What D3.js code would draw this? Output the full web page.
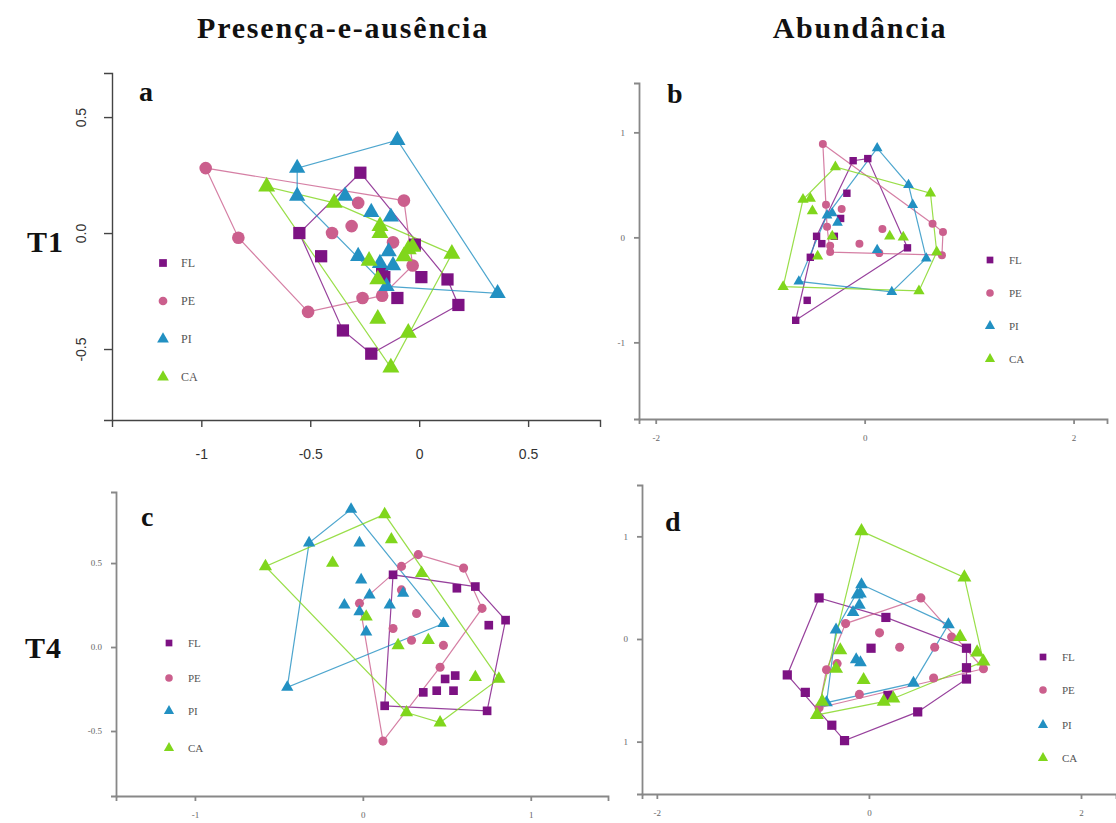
<!DOCTYPE html>
<html>
<head>
<meta charset="utf-8">
<script src="https://cdnjs.cloudflare.com/ajax/libs/d3/7.8.5/d3.min.js"></script>
<style>
  body { margin: 0; background: #fff; }
  .head { font-family: "Liberation Serif", "Times New Roman", serif; font-weight: bold; fill: #111; }
  .axis path, .axis line { stroke: #888; stroke-width: 1.8px; }
  .axis text { font-family: "Liberation Serif", serif; fill: #666; }
  .axis-a path, .axis-a line { stroke: #444; stroke-width: 1.4px; }
  .axis-a text { font-family: "Liberation Sans", Arial, sans-serif; fill: #333; }
  .hull { fill: none; stroke-width: 1.2px; stroke-opacity: 0.8; }
  .leg { font-family: "Liberation Serif", serif; fill: #555; }
</style>
</head>
<body>
<script>
var groups = ["FL", "PE", "PI", "CA"];
var colors = {FL: "#7d1283", PE: "#cb5f8d", PI: "#2290c2", CA: "#80d61c"};
var shapes = {FL: d3.symbolSquare, PE: d3.symbolCircle, PI: d3.symbolTriangle, CA: d3.symbolTriangle};

// panel a : T1, presence-absence
var aFL = [[-0.27,0.26],[-0.55,0.00],[-0.45,-0.10],[-0.35,-0.42],[-0.22,-0.52],[-0.02,-0.05],
           [0.01,-0.19],[0.13,-0.20],[-0.10,-0.28],[0.18,-0.31],[-0.17,-0.17],[-0.16,-0.19]];
var aPE = [[-0.98,0.28],[-0.83,-0.02],[-0.28,0.13],[-0.31,0.03],[-0.40,0.00],[-0.07,0.14],
           [-0.12,-0.04],[-0.03,-0.14],[-0.26,-0.28],[-0.17,-0.27],[-0.51,-0.34]];
var aPI = [[-0.56,0.28],[-0.56,0.16],[-0.34,0.16],[-0.10,0.40],[-0.22,0.09],[-0.13,0.07],
           [-0.28,-0.10],[-0.14,-0.08],[-0.18,-0.13],[-0.12,-0.14],[-0.15,-0.23],[0.36,-0.26]];
var aCA = [[-0.70,0.20],[-0.39,0.13],[-0.18,0.03],[-0.18,0.00],[-0.05,-0.07],[0.15,-0.09],
           [-0.23,-0.12],[-0.07,-0.10],[-0.03,-0.06],[-0.19,-0.20],[-0.19,-0.37],[-0.05,-0.43],[-0.13,-0.58]];
var aTicksX = [-1, -0.5, 0, 0.5], aLabelsX = ["-1", "-0.5", "0", "0.5"];
var aTicksY = [-0.5, 0, 0.5], aLabelsY = ["-0.5", "0.0", "0.5"];

// panel b : T1, abundance
var bFL = [[-0.11,0.73],[0.03,0.75],[-0.17,0.42],[-0.23,0.18],[-0.46,0.01],[-0.29,0.01],
           [-0.41,-0.06],[-0.52,-0.19],[0.41,-0.10],[-0.55,-0.60],[-0.66,-0.79]];
var bPE = [[-0.40,0.89],[-0.37,0.31],[-0.22,0.27],[-0.36,0.10],[-0.33,-0.08],[-0.33,-0.14],
           [-0.05,-0.06],[0.17,0.08],[0.65,0.13],[0.75,0.05],[0.14,-0.15],[0.74,-0.17]];
var bPI = [[0.12,0.85],[0.42,0.50],[0.46,0.31],[-0.36,0.21],[-0.31,0.23],[-0.26,0.14],
           [0.12,-0.12],[0.59,-0.20],[0.26,-0.52],[-0.63,-0.42]];
var bCA = [[-0.28,0.67],[-0.59,0.36],[-0.52,0.37],[-0.50,0.25],[-0.31,0.01],[-0.45,-0.18],
           [0.24,0.01],[0.37,0.00],[0.63,0.42],[0.69,-0.14],[0.52,-0.51],[-0.78,-0.47]];
var bTicksX = [-2, 0, 2], bLabelsX = ["-2", "0", "2"];
var bTicksY = [-1, 0, 1], bLabelsY = ["-1", "0", "1"];

// panel c : T4, presence-absence
var cFL = [[0.18,0.43],[0.56,0.35],[0.67,0.36],[0.85,0.16],[0.75,0.13],[0.49,-0.19],
           [0.55,-0.17],[0.36,-0.27],[0.44,-0.26],[0.54,-0.26],[0.13,-0.35],[0.74,-0.38]];
var cPE = [[0.33,0.55],[0.60,0.47],[0.23,0.48],[0.23,0.34],[-0.02,0.26],[0.71,0.23],
           [0.32,0.20],[0.18,0.11],[0.29,0.04],[0.48,0.01],[0.46,-0.12],[0.12,-0.56]];
var cPI = [[-0.07,0.82],[-0.32,0.62],[-0.02,0.62],[-0.01,0.40],[0.04,0.31],[-0.11,0.25],
           [0.24,0.32],[-0.02,0.21],[0.16,0.25],[0.48,0.14],[0.02,0.09],[-0.45,-0.24]];
var cCA = [[-0.58,0.48],[-0.18,0.50],[0.13,0.79],[0.17,0.64],[0.35,0.44],[0.02,0.18],
           [0.39,0.04],[0.21,0.01],[0.67,-0.18],[0.81,-0.19],[0.26,-0.39],[0.46,-0.45]];
var cTicksX = [-1, 0, 1], cLabelsX = ["-1", "0", "1"];
var cTicksY = [-0.5, 0, 0.5], cLabelsY = ["-0.5", "0.0", "0.5"];

// panel d : T4, abundance
var dFL = [[-0.47,0.40],[0.16,0.21],[0.02,-0.09],[0.92,-0.09],[0.92,-0.28],[0.92,-0.39],
           [-0.77,-0.35],[-0.60,-0.52],[0.18,-0.55],[-0.35,-0.84],[0.46,-0.71],[-0.23,-0.99]];
var dPE = [[-0.22,0.15],[0.10,0.06],[0.49,0.40],[0.29,-0.08],[0.62,-0.08],[0.78,0.02],
           [-0.30,-0.24],[-0.40,-0.30],[1.08,-0.29],[0.61,-0.38],[-0.09,-0.54],[-0.47,-0.67]];
var dPI = [[-0.07,0.53],[-0.11,0.43],[-0.08,0.44],[-0.09,0.33],[-0.15,0.26],[-0.31,0.09],
           [0.75,0.14],[-0.12,-0.20],[-0.08,-0.23],[0.42,-0.43],[-0.40,-0.62]];
var dCA = [[-0.07,1.05],[0.90,0.60],[0.86,0.02],[1.02,-0.13],[1.08,-0.22],[-0.27,-0.11],
           [-0.31,-0.29],[-0.05,-0.40],[0.14,-0.61],[0.23,-0.58],[-0.44,-0.61],[-0.49,-0.74]];
var dTicksX = [-2, 0, 2], dLabelsX = ["-2", "0", "2"];
var dTicksY = [-1, 0, 1], dLabelsY = ["1", "0", "1"];

var svg = d3.select("body").append("svg")
    .attr("width", 1116)
    .attr("height", 823);

// panel layout: plot box in pixels + axis domains
var panels = [
  {letter: "a", data: {FL: aFL, PE: aPE, PI: aPI, CA: aCA},
   box: {l: 112, r: 600, t: 73, b: 420}, xd: [-1.41, 0.83], yd: [-0.806, 0.69],
   tx: aTicksX, lx: aLabelsX, ty: aTicksY, ly: aLabelsY, big: true,
   sz: {FL: 150, PE: 125, PI: 115, CA: 125}, legX: 163, legY: [263, 301, 339, 377], letterPos: [139, 101]},
  {letter: "b", data: {FL: bFL, PE: bPE, PI: bPI, CA: bCA},
   box: {l: 639, r: 1107, t: 83, b: 419}, xd: [-2.16, 2.32], yd: [-1.73, 1.47],
   tx: bTicksX, lx: bLabelsX, ty: bTicksY, ly: bLabelsY,
   sz: {FL: 55, PE: 50, PI: 50, CA: 55}, legX: 990, legY: [260, 293, 326, 359], letterPos: [667, 103]},
  {letter: "c", data: {FL: cFL, PE: cPE, PI: cPI, CA: cCA},
   box: {l: 116, r: 608, t: 492, b: 796}, xd: [-1.47, 1.46], yd: [-0.887, 0.923],
   tx: cTicksX, lx: cLabelsX, ty: cTicksY, ly: cLabelsY,
   sz: {FL: 75, PE: 65, PI: 65, CA: 75}, legX: 169, legY: [643, 678, 711, 748], letterPos: [141, 526]},
  {letter: "d", data: {FL: dFL, PE: dPE, PI: dPI, CA: dCA},
   box: {l: 642, r: 1116, t: 485, b: 794}, xd: [-2.14, 2.33], yd: [-1.51, 1.50],
   tx: dTicksX, lx: dLabelsX, ty: dTicksY, ly: dLabelsY,
   sz: {FL: 85, PE: 65, PI: 70, CA: 85}, legX: 1043, legY: [657, 690, 725, 758], letterPos: [665, 531]}
];

panels.forEach(function(p) {
  var x = d3.scaleLinear().domain(p.xd).range([p.box.l, p.box.r]);
  var y = d3.scaleLinear().domain(p.yd).range([p.box.b, p.box.t]);
  var g = svg.append("g");
  var cls = p.big ? "axis axis-a" : "axis";

  // axes (R style, only bottom and left)
  var xa = d3.axisBottom(x).tickValues(p.tx).tickSizeOuter(0).tickSize(p.big ? 7 : 5)
      .tickPadding(p.big ? 22 : 11).tickFormat(function(d, i) { return p.lx[i]; });
  g.append("g").attr("class", cls).attr("transform", "translate(0," + p.box.b + ")").call(xa)
    .selectAll("text").style("font-size", p.big ? "14px" : "9px");

  var ya = d3.axisLeft(y).tickValues(p.ty).tickSizeOuter(0).tickSize(p.big ? 8 : 5)
      .tickPadding(p.big ? 18 : 9).tickFormat(function(d, i) { return p.ly[i]; });
  var yg = g.append("g").attr("class", cls).attr("transform", "translate(" + p.box.l + ",0)").call(ya);
  yg.selectAll("text").style("font-size", p.big ? "14px" : "9px");
  if (p.big) {
    // rotated labels like R's default las=0
    yg.selectAll(".tick text")
      .attr("text-anchor", "middle")
      .attr("dy", 0)
      .attr("transform", "rotate(-90)")
      .attr("x", 0).attr("y", -26);
  }

  // convex hulls per group
  groups.forEach(function(k) {
    var pts = p.data[k].map(function(d) { return [x(d[0]), y(d[1])]; });
    var hull = d3.polygonHull(pts);
    g.append("path").attr("class", "hull")
      .attr("stroke", colors[k])
      .attr("d", "M" + hull.join("L") + "Z");
  });

  // points
  groups.forEach(function(k) {
    g.selectAll(null).data(p.data[k]).enter().append("path")
      .attr("transform", function(d) { return "translate(" + x(d[0]) + "," + y(d[1]) + ")"; })
      .attr("d", d3.symbol().type(shapes[k]).size(p.sz[k]))
      .attr("fill", colors[k]);
  });

  // legend
  groups.forEach(function(k, i) {
    g.append("path")
      .attr("transform", "translate(" + p.legX + "," + p.legY[i] + ")")
      .attr("d", d3.symbol().type(shapes[k]).size(p.big ? 60 : 45))
      .attr("fill", colors[k]);
    g.append("text").attr("class", "leg")
      .attr("x", p.legX + (p.big ? 18 : 19)).attr("y", p.legY[i] + 4)
      .style("font-size", p.big ? "12px" : "11px")
      .text(k);
  });

  g.append("text").attr("class", "head")
    .attr("x", p.letterPos[0]).attr("y", p.letterPos[1])
    .style("font-size", "28px")
    .text(p.letter);
});

// headings
svg.append("text").attr("class", "head").attr("x", 343).attr("y", 38)
  .attr("text-anchor", "middle").style("font-size", "30px").style("letter-spacing", "1.8px")
  .text("Presença-e-ausência");
svg.append("text").attr("class", "head").attr("x", 860).attr("y", 38)
  .attr("text-anchor", "middle").style("font-size", "30px").style("letter-spacing", "1.8px")
  .text("Abundância");
svg.append("text").attr("class", "head").attr("x", 27).attr("y", 252)
  .style("font-size", "30px").style("letter-spacing", "1px").text("T1");
svg.append("text").attr("class", "head").attr("x", 25).attr("y", 658)
  .style("font-size", "30px").style("letter-spacing", "1px").text("T4");
</script>
</body>
</html>
